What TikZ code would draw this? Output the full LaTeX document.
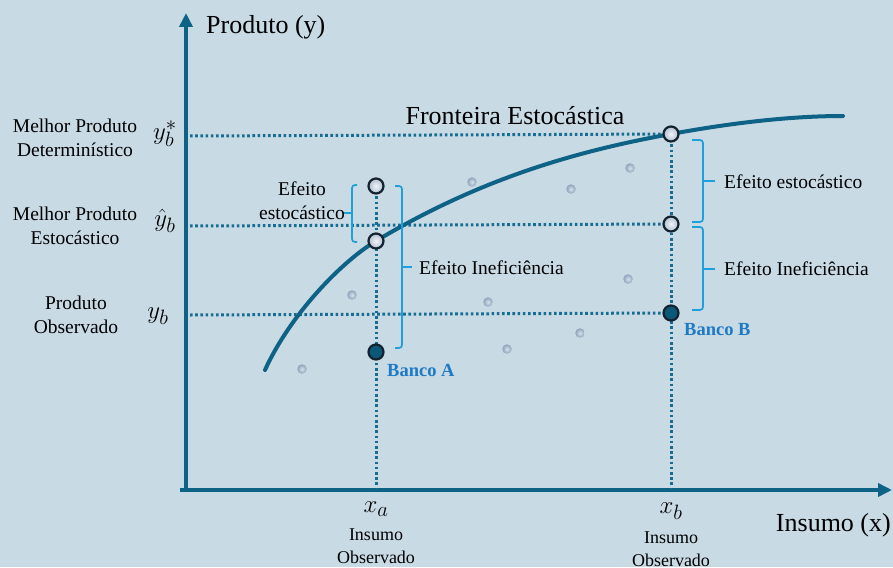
\documentclass[tikz,border=0pt]{standalone}
\usepackage{fontspec}
\setmainfont{Liberation Serif}
\usetikzlibrary{arrows.meta}
\definecolor{bg}{RGB}{200,218,228}
\definecolor{axisc}{RGB}{14,98,134}
\definecolor{dotc}{RGB}{24,108,145}
\definecolor{brkc}{RGB}{30,160,220}
\definecolor{bancoc}{RGB}{30,122,196}
\definecolor{ptfill}{RGB}{12,88,120}
\definecolor{ringc}{RGB}{20,34,48}
\definecolor{scatc}{RGB}{140,164,188}
\definecolor{scatl}{RGB}{215,225,235}
\definecolor{openl}{RGB}{240,244,248}
\definecolor{opend}{RGB}{176,192,208}
\begin{document}
\begin{tikzpicture}[x=1pt,y=-1pt,
  axisline/.style={draw=axisc, line width=4pt, -{Triangle[width=13pt,length=14pt]}},
  dotline/.style={draw=dotc, line width=3pt, dash pattern=on 2.6pt off 2.6pt},
  brk/.style={draw=brkc, line width=1.7pt, rounded corners=3pt},
  openpt/.style={circle, draw=ringc, line width=2.2pt, inner sep=0pt, minimum size=15pt, inner color=openl, outer color=opend},
  fillpt/.style={circle, draw=ringc, line width=2.2pt, fill=ptfill, inner sep=0pt, minimum size=15pt},
  scatpt/.style={circle, inner sep=0pt, minimum size=9.5pt, inner color=scatl, outer color=scatc},
  lbl/.style={font=\fontsize{19.5}{24}\selectfont, align=center, inner sep=0pt},
  small/.style={font=\fontsize{18}{23}\selectfont, align=center, inner sep=0pt},
  big/.style={font=\fontsize{26}{30}\selectfont, inner sep=0pt},
  mathl/.style={font=\fontsize{28}{32}\selectfont, inner sep=0pt},
  banco/.style={font=\fontsize{18.5}{22}\selectfont\bfseries, text=bancoc, inner sep=0pt, anchor=west}
]
\fill[bg] (0,0) rectangle (893,567);
\useasboundingbox (0,0) rectangle (893,567);

% axes
\coordinate (O) at (186,490);
\coordinate (ytop) at (186,13);
\coordinate (xstart) at (180,490);
\coordinate (xend) at (892,490);
\draw[axisline] (186,492) -- (ytop);
\draw[axisline] (xstart) -- (xend);

% coordinates of points
\coordinate (pA1) at (376,186);
\coordinate (pA2) at (376,241);
\coordinate (pA3) at (376,352);
\coordinate (pB1) at (671,134);
\coordinate (pB2) at (671,224);
\coordinate (pB3) at (671,313);
\coordinate (ys) at (190,136);
\coordinate (yh) at (190,226);
\coordinate (yo) at (190,315);
\coordinate (xa) at (376,488);
\coordinate (xb) at (671,488);

% dotted lines
\draw[dotline] (ys) -- (pB1);
\draw[dotline] (yh) -- (pB2);
\draw[dotline] (yo) -- (pB3);
\draw[dotline] (pA1) -- (xa);
\draw[dotline] (pB1) -- (xb);

% frontier curve
\draw[draw=axisc, line width=4pt, line cap=round]
  (265,370) .. controls (290,315) and (341,262) .. (pA2)
  .. controls (476,181) and (571,152) .. (pB1)
  .. controls (731,123) and (790,116) .. (843,116);

% scattered points
\foreach \p in {(472,182),(571,189),(630,168),(352,295),(488,302),(628,279),(302,369),(507,349),(580,333)}
  \node[scatpt] at \p {};

% point nodes
\node[openpt] (A1) at (pA1) {};
\node[openpt] (A2) at (pA2) {};
\node[fillpt] (A3) at (pA3) {};
\node[openpt] (B1) at (pB1) {};
\node[openpt] (B2) at (pB2) {};
\node[fillpt] (B3) at (pB3) {};

% brackets
\draw[brk] (357,185) -- (352,185) -- (352,242) -- (357,242);
\draw[brk] (352,213) -- (343,213);
\draw[brk] (395,186) -- (402,186) -- (402,348) -- (395,348);
\draw[brk] (402,267) -- (412,267);
\draw[brk] (692,140) -- (703,140) -- (703,222) -- (692,222);
\draw[brk] (703,181) -- (715,181);
\draw[brk] (692,227) -- (703,227) -- (703,310) -- (692,310);
\draw[brk] (703,269) -- (715,269);

% texts
\node[big, anchor=west] (ylab) at (206,27) {Produto (y)};
\node[big, anchor=east] (xlab) at (891,525) {Insumo (x)};
\node[big] (front) at (515,116) {Fronteira Estocástica};

\node[lbl] (l1) at (75,138) {Melhor Produto\\Determinístico};
\node[lbl] (l2) at (75,226) {Melhor Produto\\Estocástico};
\node[lbl] (l3) at (76,315) {Produto\\Observado};

\node[mathl] (m1) at (165,134) {$y_b^*$};
\node[mathl] (m2) at (165,221) {$\hat{y}_b$};
\node[mathl] (m3) at (158,316) {$y_b$};

\node[mathl] (mxa) at (376,509) {$x_a$};
\node[mathl] (mxb) at (671,511) {$x_b$};
\node[small] (ia) at (376,546) {Insumo\\Observado};
\node[small] (ib) at (671,549) {Insumo\\Observado};

\node[lbl] (ea) at (302,201) {Efeito\\estocástico};
\node[lbl, anchor=west] (ia2) at (419,268) {Efeito Ineficiência};
\node[lbl, anchor=west] (eb) at (724,182) {Efeito estocástico};
\node[lbl, anchor=west] (ib2) at (724,269) {Efeito Ineficiência};

\node[banco] (ba) at (387,370) {Banco A};
\node[banco] (bb) at (684,330) {Banco B};
\end{tikzpicture}
\end{document}
